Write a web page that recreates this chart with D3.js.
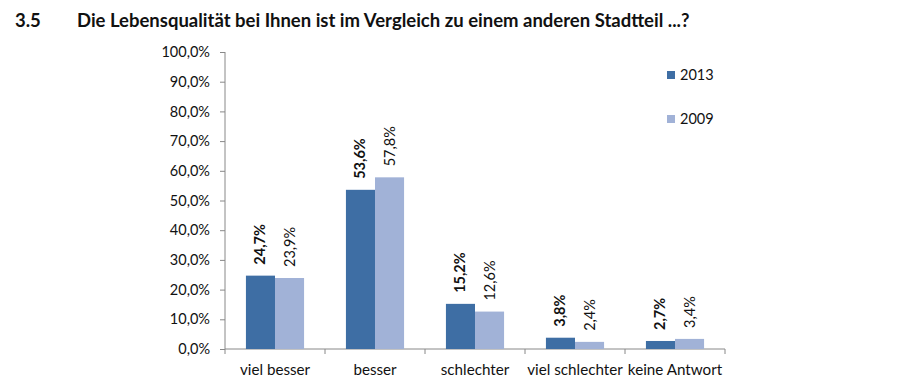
<!DOCTYPE html>
<html><head><meta charset="utf-8">
<script src="https://cdn.jsdelivr.net/npm/d3@7"></script>
<style>body{margin:0;background:#fff;}svg{display:block;font-family:Lato,"Open Sans",sans-serif;}</style>
</head><body><svg id="c" width="900" height="383"></svg>
<script>
const titleNum = "3.5";
const titleText = "Die Lebensqualität bei Ihnen ist im Vergleich zu einem anderen Stadtteil ...?";
const categories = ["viel besser","besser","schlechter","viel schlechter","keine Antwort"];
const seriesNames = ["2013","2009"];
const values2013 = [24.7,53.6,15.2,3.8,2.7];
const values2009 = [23.9,57.8,12.6,2.4,3.4];
const yTicks = [0,10,20,30,40,50,60,70,80,90,100];
const colors = ["#3E6EA4","#A1B2D7"];

const svg = d3.select("#c");
const fmt = v => d3.format(".1f")(v).replace(".",",") + "%";
const pL=225, pR=725, pT=52, pB=349;
const x = d3.scaleBand().domain(categories).range([pL,pR]).paddingInner(0).paddingOuter(0);
const xs = d3.scaleBand().domain(seriesNames).range([0,x.bandwidth()]).paddingInner(0).paddingOuter(0.72);
const y = d3.scaleLinear().domain([0,100]).range([pB,pT]);

svg.append("text").attr("x",15).attr("y",27).attr("font-weight","bold").attr("font-size",18.5).attr("fill","#111").text(titleNum);
svg.append("text").attr("x",77).attr("y",27).attr("font-weight","bold").attr("font-size",18.5).attr("fill","#111").text(titleText);

const yAxis = d3.axisLeft(y).tickValues(yTicks).tickSize(5).tickPadding(10).tickFormat(fmt);
const gy = svg.append("g").attr("transform",`translate(${pL},0)`).call(yAxis);
gy.select(".domain").attr("stroke","#888").attr("d",`M0,${pT}V${pB}`);
gy.selectAll(".tick line").attr("stroke","#888");
gy.selectAll(".tick text").attr("font-size",14.5).attr("fill","#111").attr("font-family","Lato");

const xAxis = d3.axisBottom(x).tickSize(0).tickPadding(15);
const gx = svg.append("g").attr("transform",`translate(0,${pB})`).call(xAxis);
gx.select(".domain").attr("stroke","#888").attr("d",`M${pL},0H${pR}`);
gx.selectAll(".tick text").attr("font-size",15.2).attr("fill","#111").attr("font-family","Lato");
const bounds = categories.map(c=>x(c)).concat([pR]);
gx.selectAll(".ctick").data(bounds).join("line").attr("class","ctick")
  .attr("x1",d=>d).attr("x2",d=>d).attr("y1",0).attr("y2",5).attr("stroke","#888");

const series = [values2013, values2009];
series.forEach((vals,si)=>{
  const g = svg.append("g");
  g.selectAll("rect").data(vals).join("rect")
    .attr("x",(d,i)=>x(categories[i])+xs(seriesNames[si]))
    .attr("y",d=>y(d)).attr("width",xs.bandwidth()).attr("height",d=>pB-y(d))
    .attr("fill",colors[si]);
  g.selectAll("text").data(vals).join("text")
    .attr("transform",(d,i)=>`translate(${x(categories[i])+xs(seriesNames[si])+xs.bandwidth()/2+5},${y(d)-11}) rotate(-90)`)
    .attr("font-size",14.5).attr("font-weight",si===0?"bold":"normal").attr("fill","#111")
    .text(d=>fmt(d));
});

const lg = svg.append("g");
seriesNames.forEach((s,i)=>{
  lg.append("rect").attr("x",667).attr("y",71+i*44).attr("width",8).attr("height",8).attr("fill",colors[i]);
  lg.append("text").attr("x",680).attr("y",80+i*44).attr("font-size",14.5).attr("fill","#111").text(s);
});
</script></body></html>
